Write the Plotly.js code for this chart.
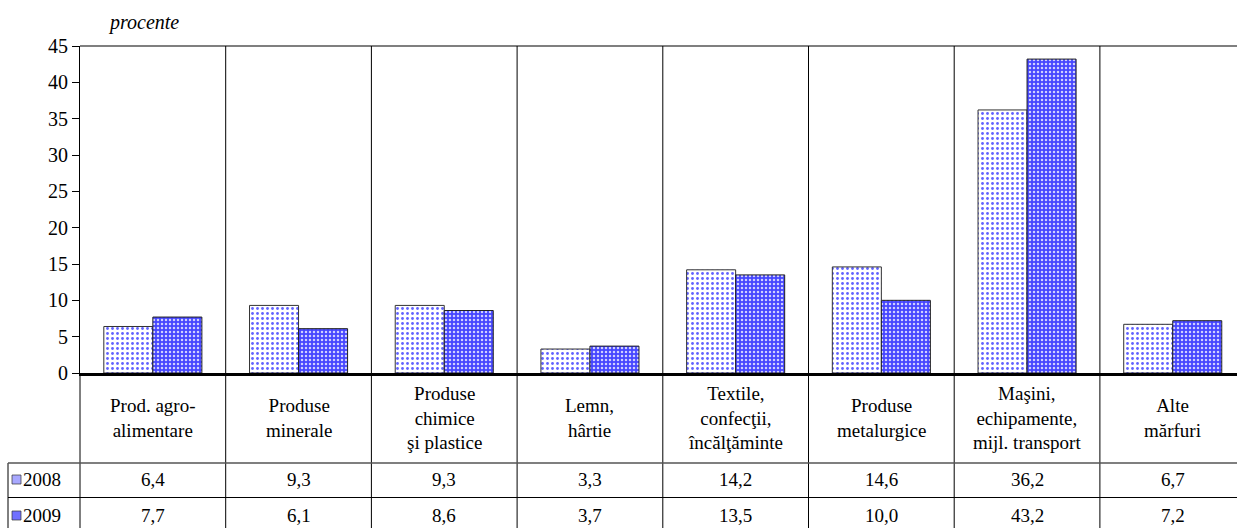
<!DOCTYPE html>
<html>
<head>
<meta charset="utf-8">
<script src="https://cdn.plot.ly/plotly-3.0.1.min.js"></script>
<style>
html,body{margin:0;padding:0;background:#fff;}
#chart{width:1237px;height:528px;}
#chart text{font-family:'Liberation Serif','Times New Roman',serif !important;}
</style>
</head>
<body>
<div id="chart"></div>
<script>
const categories = [
  "Prod. agro-<br>alimentare",
  "Produse<br>minerale",
  "Produse<br>chimice<br>şi plastice",
  "Lemn,<br>hârtie",
  "Textile,<br>confecţii,<br>încălţăminte",
  "Produse<br>metalurgice",
  "Maşini,<br>echipamente,<br>mijl. transport",
  "Alte<br>mărfuri"
];
const values2008 = [6.4, 9.3, 9.3, 3.3, 14.2, 14.6, 36.2, 6.7];
const values2009 = [7.7, 6.1, 8.6, 3.7, 13.5, 10.0, 43.2, 7.2];
const seriesNames = ["2008", "2009"];
const yTicks = [0, 5, 10, 15, 20, 25, 30, 35, 40, 45];

const FONT = 'Liberation Serif';
const xs = categories.map((c, i) => i);
const fmt = v => v.toFixed(1).replace('.', ',');

const traces = [
  {
    type: 'bar', x: xs, y: values2008, name: seriesNames[0],
    marker: {
      color: '#ffffff',
      line: {color: '#333333', width: 1},
      pattern: {shape: '.', fgcolor: '#6262ff', bgcolor: '#ffffff', size: 5, solidity: 0.25}
    },
    hoverinfo: 'skip'
  },
  {
    type: 'bar', x: xs, y: values2009, name: seriesNames[1],
    marker: {
      color: '#5a5aff',
      line: {color: '#222222', width: 1},
      pattern: {shape: '.', fgcolor: '#d0d0ff', bgcolor: '#4646ff', size: 4, solidity: 0.3}
    },
    hoverinfo: 'skip'
  }
];

const plotW = 1157, plotH = 327;
const px2paperY = y => (373 - y) / plotH;
const px2paperX = x => (x - 80) / plotW;

const shapes = [];
const lineCol = '#000000';
shapes.push({type: 'line', xref: 'paper', yref: 'paper', x0: 0, x1: 1, y0: 1, y1: 1, line: {color: '#555', width: 1.5}});
for (let k = 0; k < categories.length - 1; k++) {
  shapes.push({type: 'line', xref: 'x', yref: 'paper', x0: k + 0.5, x1: k + 0.5, y0: 1, y1: px2paperY(530), line: {color: lineCol, width: 1}});
}
shapes.push({type: 'line', xref: 'paper', yref: 'paper', x0: 0, x1: 0, y0: 0, y1: px2paperY(530), line: {color: lineCol, width: 1}});
shapes.push({type: 'line', xref: 'paper', yref: 'paper', x0: px2paperX(8), x1: px2paperX(8), y0: px2paperY(463), y1: px2paperY(530), line: {color: lineCol, width: 1}});
shapes.push({type: 'line', xref: 'paper', yref: 'paper', x0: px2paperX(8), x1: 1, y0: px2paperY(463), y1: px2paperY(463), line: {color: '#555', width: 1.5}});
shapes.push({type: 'line', xref: 'paper', yref: 'paper', x0: px2paperX(8), x1: 1, y0: px2paperY(497.5), y1: px2paperY(497.5), line: {color: lineCol, width: 1}});
shapes.push({type: 'rect', xref: 'paper', yref: 'paper', x0: px2paperX(12), x1: px2paperX(21), y0: px2paperY(484), y1: px2paperY(475), fillcolor: '#a8a8ff', line: {color: '#333', width: 0.7}});
shapes.push({type: 'rect', xref: 'paper', yref: 'paper', x0: px2paperX(12), x1: px2paperX(21), y0: px2paperY(520), y1: px2paperY(511), fillcolor: '#7070ff', line: {color: '#333', width: 0.7}});

const annotations = [];
annotations.push({xref: 'paper', yref: 'paper', x: px2paperX(143), y: px2paperY(22), text: '<i>procente</i>', showarrow: false, font: {family: FONT, size: 20, color: '#000'}, xanchor: 'center', yanchor: 'middle'});
categories.forEach((c, i) => {
  annotations.push({xref: 'x', yref: 'paper', x: i, y: px2paperY(418), text: c, showarrow: false, font: {family: FONT, size: 19, color: '#000'}, xanchor: 'center', yanchor: 'middle', align: 'center'});
  annotations.push({xref: 'x', yref: 'paper', x: i, y: px2paperY(480), text: fmt(values2008[i]), showarrow: false, font: {family: FONT, size: 19, color: '#000'}, xanchor: 'center', yanchor: 'middle'});
  annotations.push({xref: 'x', yref: 'paper', x: i, y: px2paperY(515), text: fmt(values2009[i]), showarrow: false, font: {family: FONT, size: 19, color: '#000'}, xanchor: 'center', yanchor: 'middle'});
});
annotations.push({xref: 'paper', yref: 'paper', x: px2paperX(21), y: px2paperY(480), text: seriesNames[0], showarrow: false, font: {family: FONT, size: 19, color: '#000'}, xanchor: 'left', yanchor: 'middle'});
annotations.push({xref: 'paper', yref: 'paper', x: px2paperX(21), y: px2paperY(515), text: seriesNames[1], showarrow: false, font: {family: FONT, size: 19, color: '#000'}, xanchor: 'left', yanchor: 'middle'});

const layout = {
  width: 1237, height: 528,
  margin: {l: 80, r: 0, t: 46, b: 155, pad: 0},
  paper_bgcolor: '#ffffff', plot_bgcolor: '#ffffff',
  showlegend: false,
  font: {family: FONT},
  barmode: 'group', bargap: 0.327, bargroupgap: 0,
  xaxis: {
    range: [-0.5, -0.5 + plotW / 145.7], showticklabels: false, ticks: '',
    showgrid: false, zeroline: false, showline: true, linecolor: '#000', linewidth: 3, fixedrange: true
  },
  yaxis: {
    range: [0, 45], tickvals: yTicks, ticktext: yTicks.map(String),
    ticks: 'outside', ticklen: 7, tickcolor: '#000', tickwidth: 1,
    showgrid: false, zeroline: false, showline: true, linecolor: '#000', linewidth: 1,
    tickfont: {family: FONT, size: 20, color: '#000'}, fixedrange: true
  },
  shapes: shapes,
  annotations: annotations
};

Plotly.newPlot('chart', traces, layout, {displayModeBar: false, staticPlot: true});
</script>
</body>
</html>
